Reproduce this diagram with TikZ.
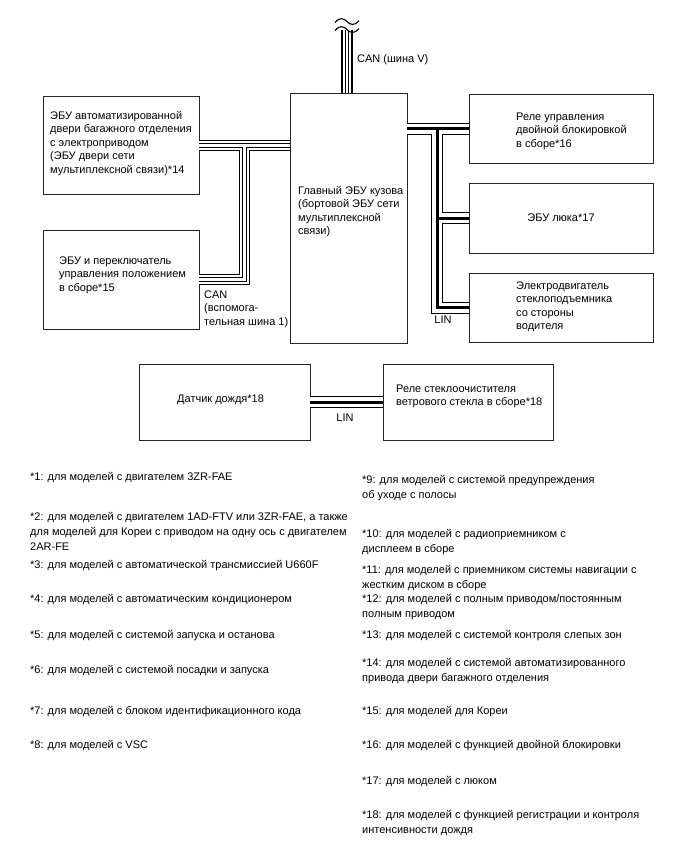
\documentclass[tikz,border=0pt]{standalone}
\usepackage{fontspec}
\setmainfont{Liberation Sans}
\usetikzlibrary{positioning}

\tikzset{
  blk/.style={draw=black!85, line width=0.9, inner sep=0},
  txt/.style={inner sep=0, align=left, font=\fontsize{11}{13.5}\selectfont},
  note/.style={inner sep=0, align=left, anchor=west, font=\fontsize{11}{15}\selectfont}
}

\begin{document}
\begin{tikzpicture}[x=1pt, y=-1pt]

		\useasboundingbox (0,0) rectangle (688,852);

		% Boxes
		\node[blk, minimum width=156, minimum height=98] (tdoor) at (121,145.5) {};
		\node[blk, minimum width=156, minimum height=99] (pos) at (121,279.5) {};
		\node[blk, minimum width=117, minimum height=250] (bcm) at (348.5,218) {};
		\node[blk, minimum width=184, minimum height=69] (relA) at (561,128.5) {};
		\node[blk, minimum width=184, minimum height=70] (roof) at (561,218) {};
		\node[blk, minimum width=184, minimum height=69] (win) at (561,307.5) {};
		\node[blk, minimum width=171, minimum height=76] (rain) at (224.5,402) {};
		\node[blk, minimum width=170, minimum height=76] (wiper) at (468,402) {};

		% Box texts
		\node[txt, anchor=west] at (50,143.5) {ЭБУ автоматизированной\\двери багажного отделения\\с электроприводом\\(ЭБУ двери сети\\мультиплексной связи)*14};
		\node[txt, anchor=west] at (59,275) {ЭБУ и переключатель\\управления положением\\в сборе*15};
		\node[txt, anchor=west] at (298,211.5) {Главный ЭБУ кузова\\(бортовой ЭБУ сети\\мультиплексной\\связи)};
		\node[txt, anchor=west] at (516,131) {Реле управления\\двойной блокировкой\\в сборе*16};
		\node[txt] at (roof) {ЭБУ люка*17};
		\node[txt, anchor=west] at (516,306.5) {Электродвигатель\\стеклоподъемника\\со стороны\\водителя};
		\node[txt, anchor=west] at (177,400) {Датчик дождя*18};
		\node[txt, anchor=west] at (396,396.5) {Реле стеклоочистителя\\ветрового стекла в сборе*18};

		% Junction points
		\coordinate (canj) at ([xshift=-45]bcm.west |- tdoor.east);
		\coordinate (cantop) at ([xshift=-1.5,yshift=63]bcm.north);
		\coordinate (linj) at ([xshift=30]bcm.east |- relA.west);

		% CAN lines
		\foreach \w/\c in {11.5/black, 8.5/white, 4.2/black, 2.8/white}
			\draw[line width=\w, \c] (tdoor.east) -- (bcm.west |- tdoor.east)
				(canj) |- (pos.east)
				(bcm.north -| cantop) -- (cantop);

		% Break mark
		\foreach \dy in {8,0}
			\draw[line width=1.1] ([xshift=-12,yshift=\dy-1]cantop) .. controls ([xshift=-7,yshift=\dy+5]cantop) and ([xshift=-3,yshift=\dy+3]cantop) .. ([yshift=\dy]cantop)
				.. controls ([xshift=3,yshift=\dy-3]cantop) and ([xshift=7,yshift=\dy-5]cantop) .. ([xshift=12,yshift=\dy+1]cantop);

		% LIN lines
		\foreach \w/\c in {12/black, 10/white, 3/black}
			\draw[line width=\w, \c] (bcm.east |- relA.west) -- (relA.west)
				(linj) |- (win.west)
				(linj |- roof.west) -- (roof.west)
				(rain.east) -- (wiper.west);

		% Bus labels
		\node[txt, anchor=west] at (357,60) {CAN (шина V)};
		\node[txt, anchor=west] at (204,309) {CAN\\(вспомога-\\тельная шина 1)};
		\node[txt] at (443,320) {LIN};
		\node[txt] at (345,418) {LIN};

		% Footnotes
		\node[note] at (30,478) {*1: для моделей с двигателем 3ZR-FAE};
		\node[note] at (30,531) {*2: для моделей с двигателем 1AD-FTV или 3ZR-FAE, а также\\для моделей для Кореи с приводом на одну ось с двигателем\\2AR-FE};
		\node[note] at (30,566) {*3: для моделей с автоматической трансмиссией U660F};
		\node[note] at (30,600) {*4: для моделей с автоматическим кондиционером};
		\node[note] at (30,636) {*5: для моделей с системой запуска и останова};
		\node[note] at (30,671) {*6: для моделей с системой посадки и запуска};
		\node[note] at (30,712) {*7: для моделей с блоком идентификационного кода};
		\node[note] at (30,746) {*8: для моделей с VSC};
		\node[note] at (362,488.5) {*9: для моделей с системой предупреждения\\об уходе с полосы};
		\node[note] at (362,542) {*10: для моделей с радиоприемником с\\дисплеем в сборе};
		\node[note] at (362,578) {*11: для моделей с приемником системы навигации с\\жестким диском в сборе};
		\node[note] at (362,607) {*12: для моделей с полным приводом/постоянным\\полным приводом};
		\node[note] at (362,636) {*13: для моделей с системой контроля слепых зон};
		\node[note] at (362,671.5) {*14: для моделей с системой автоматизированного\\привода двери багажного отделения};
		\node[note] at (362,712) {*15: для моделей для Кореи};
		\node[note] at (362,746) {*16: для моделей с функцией двойной блокировки};
		\node[note] at (362,782) {*17: для моделей с люком};
		\node[note] at (362,823) {*18: для моделей с функцией регистрации и контроля\\интенсивности дождя};

	\end{tikzpicture}
\end{document}
